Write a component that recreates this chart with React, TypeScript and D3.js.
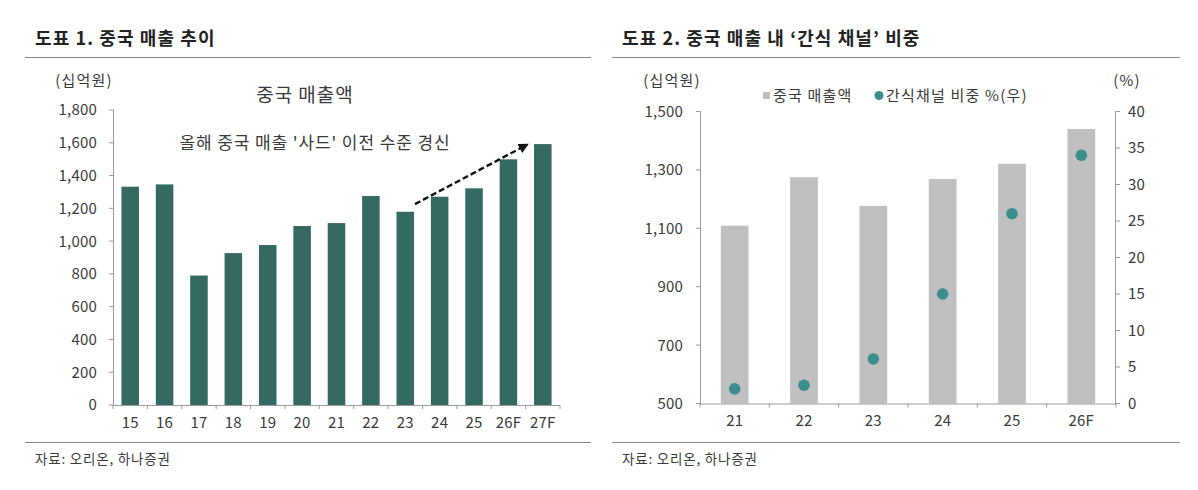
import React from "react";
import * as d3 from "d3";

// 도표 1: 중국 매출 추이 (십억원)
const salesYears = ["15", "16", "17", "18", "19", "20", "21", "22", "23", "24", "25", "26F", "27F"];
const salesValues = [1332, 1346, 790, 927, 976, 1092, 1110, 1275, 1179, 1271, 1322, 1499, 1592];
const salesTicks = [0, 200, 400, 600, 800, 1000, 1200, 1400, 1600, 1800];

// 도표 2: 중국 매출 내 간식 채널 비중
const channelYears = ["21", "22", "23", "24", "25", "26F"];
const channelSales = [1109, 1275, 1177, 1269, 1321, 1440];
const snackShare = [2.0, 2.5, 6.1, 15.0, 26.0, 34.0];
const channelSalesTicks = [500, 700, 900, 1100, 1300, 1500];
const shareTicks = [0, 5, 10, 15, 20, 25, 30, 35, 40];

// 화살표 주석 (시작: 23년, 끝: 27F)
const arrowFrom = { year: "23", value: 1226 };
const arrowTo = { year: "27F", value: 1588 };

const FONT = "'Noto Sans CJK KR', 'Noto Sans', sans-serif";
const TEXT = "#3a3a3a";
const AXIS = "#9a9a9a";
const GREEN = "#346a61";
const GRAY = "#c0c0c0";
const TEAL = "#3b8e8b";

const fmt = d3.format(",");

export default function App() {
  // left chart scales
  const xL = d3.scaleBand<string>().domain(salesYears).range([113, 560]).paddingInner(0.49).paddingOuter(0.245);
  const yL = d3.scaleLinear().domain([0, 1800]).range([405, 110]);
  const bwL = xL.bandwidth();
  const stepL = xL.step();

  // right chart scales
  const xR = d3.scaleBand<string>().domain(channelYears).range([700, 1116]).paddingInner(0.6).paddingOuter(0.3);
  const yR = d3.scaleLinear().domain([500, 1500]).range([403.5, 111.5]);
  const yP = d3.scaleLinear().domain([0, 40]).range([403.5, 111.5]);
  const bwR = xR.bandwidth();
  const stepR = xR.step();

  const ax1 = (xL(arrowFrom.year) as number) + bwL + 1;
  const ay1 = yL(arrowFrom.value);
  const ax2 = (xL(arrowTo.year) as number) - 7;
  const ay2 = yL(arrowTo.value);

  const tick = { fontSize: 15, fill: TEXT, letterSpacing: 0.2 };
  const title = { fontSize: 18, fontWeight: 700, fill: "#222", letterSpacing: 1.1 };
  const unit = { fontSize: 15, fill: TEXT, letterSpacing: 1.2 };
  const source = { fontSize: 13.5, fill: TEXT, letterSpacing: 0.8 };
  const legend = { fontSize: 15, fill: TEXT, letterSpacing: 1.2 };

  return (
    <svg
      width={1198}
      height={490}
      style={{ position: "absolute", left: 0, top: 0, background: "#fff" }}
      fontFamily={FONT}
    >
      <defs>
        <marker id="arrowHead" viewBox="0 0 10 10" refX="8" refY="5" markerWidth="4.2" markerHeight="4.2" orient="auto">
          <path d="M0,0 L10,5 L0,10 Z" fill="#111" />
        </marker>
      </defs>
      <rect width={1198} height={490} fill="#fff" />

      {/* ---------- 도표 1 ---------- */}
      <text x={35} y={45} {...title}>도표 1. 중국 매출 추이</text>
      <line x1={25} x2={591} y1={57.5} y2={57.5} stroke="#8a8a8a" strokeWidth={1} />
      <text x={84} y={86} textAnchor="middle" {...unit}>(십억원)</text>

      {/* y axis */}
      <line x1={113.5} x2={113.5} y1={yL(1800)} y2={yL(0)} stroke={AXIS} />
      {salesTicks.map((t) => (
        <g key={t}>
          <line x1={109} x2={113.5} y1={yL(t)} y2={yL(t)} stroke={AXIS} />
          <text x={97} y={yL(t)} dy="0.36em" textAnchor="end" {...tick}>{fmt(t)}</text>
        </g>
      ))}

      {/* bars */}
      {salesYears.map((c, i) => (
        <rect key={c} x={xL(c)} y={yL(salesValues[i])} width={bwL} height={yL(0) - yL(salesValues[i])} fill={GREEN} />
      ))}

      {/* x axis */}
      <line x1={113} x2={560} y1={yL(0) + 0.5} y2={yL(0) + 0.5} stroke={AXIS} />
      {d3.range(salesYears.length + 1).map((i) => (
        <line key={i} x1={113 + i * stepL} x2={113 + i * stepL} y1={yL(0)} y2={yL(0) + 4} stroke={AXIS} />
      ))}
      {salesYears.map((c) => (
        <text key={c} x={(xL(c) as number) + bwL / 2} y={428} textAnchor="middle" {...tick}>{c}</text>
      ))}

      {/* annotations */}
      <text x={305} y={102} fontSize={19} fill={TEXT} letterSpacing={1} textAnchor="middle">중국 매출액</text>
      <text x={315} y={149} fontSize={17} fill={TEXT} letterSpacing={0.9} textAnchor="middle">올해 중국 매출 '사드' 이전 수준 경신</text>
      <line x1={ax1} y1={ay1} x2={ax2} y2={ay2} stroke="#111" strokeWidth={2.4} strokeDasharray="6,3" markerEnd="url(#arrowHead)" />

      <line x1={25} x2={591} y1={442.5} y2={442.5} stroke="#8a8a8a" strokeWidth={1} />
      <text x={35} y={464} {...source}>자료: 오리온, 하나증권</text>

      {/* ---------- 도표 2 ---------- */}
      <text x={622} y={45} {...title}>도표 2. 중국 매출 내 ‘간식 채널’ 비중</text>
      <line x1={612} x2={1180} y1={57.5} y2={57.5} stroke="#8a8a8a" strokeWidth={1} />
      <text x={672} y={86} textAnchor="middle" {...unit}>(십억원)</text>
      <text x={1127} y={86} textAnchor="middle" {...unit}>(%)</text>

      {/* legend */}
      <rect x={763} y={92} width={7} height={7} fill={GRAY} />
      <text x={773} y={101} {...legend}>중국 매출액</text>
      <circle cx={879} cy={95.5} r={4.5} fill={TEAL} />
      <text x={886} y={101} {...legend}>간식채널 비중 %(우)</text>

      {/* left y axis */}
      <line x1={700.5} x2={700.5} y1={yR(1500)} y2={yR(500)} stroke={AXIS} />
      {channelSalesTicks.map((t) => (
        <g key={t}>
          <line x1={696} x2={700.5} y1={yR(t)} y2={yR(t)} stroke={AXIS} />
          <text x={683} y={yR(t)} dy="0.36em" textAnchor="end" {...tick}>{fmt(t)}</text>
        </g>
      ))}

      {/* right y axis */}
      <line x1={1115.5} x2={1115.5} y1={yP(40)} y2={yP(0)} stroke={AXIS} />
      {shareTicks.map((t) => (
        <g key={t}>
          <line x1={1115.5} x2={1120} y1={yP(t)} y2={yP(t)} stroke={AXIS} />
          <text x={1128} y={yP(t)} dy="0.36em" {...tick}>{t}</text>
        </g>
      ))}

      {/* bars */}
      {channelYears.map((c, i) => (
        <rect key={c} x={xR(c)} y={yR(channelSales[i])} width={bwR} height={yR(500) - yR(channelSales[i])} fill={GRAY} />
      ))}

      {/* x axis */}
      <line x1={700} x2={1116} y1={yR(500) + 0.5} y2={yR(500) + 0.5} stroke={AXIS} />
      {d3.range(channelYears.length + 1).map((i) => (
        <line key={i} x1={700 + i * stepR} x2={700 + i * stepR} y1={yR(500)} y2={yR(500) + 4} stroke={AXIS} />
      ))}
      {channelYears.map((c) => (
        <text key={c} x={(xR(c) as number) + bwR / 2} y={426} textAnchor="middle" {...tick}>{c}</text>
      ))}

      {/* share dots */}
      {channelYears.map((c, i) => (
        <circle key={c} cx={(xR(c) as number) + bwR / 2} cy={yP(snackShare[i])} r={5.8} fill={TEAL} />
      ))}

      <line x1={612} x2={1180} y1={442.5} y2={442.5} stroke="#8a8a8a" strokeWidth={1} />
      <text x={622} y={464} {...source}>자료: 오리온, 하나증권</text>
    </svg>
  );
}
